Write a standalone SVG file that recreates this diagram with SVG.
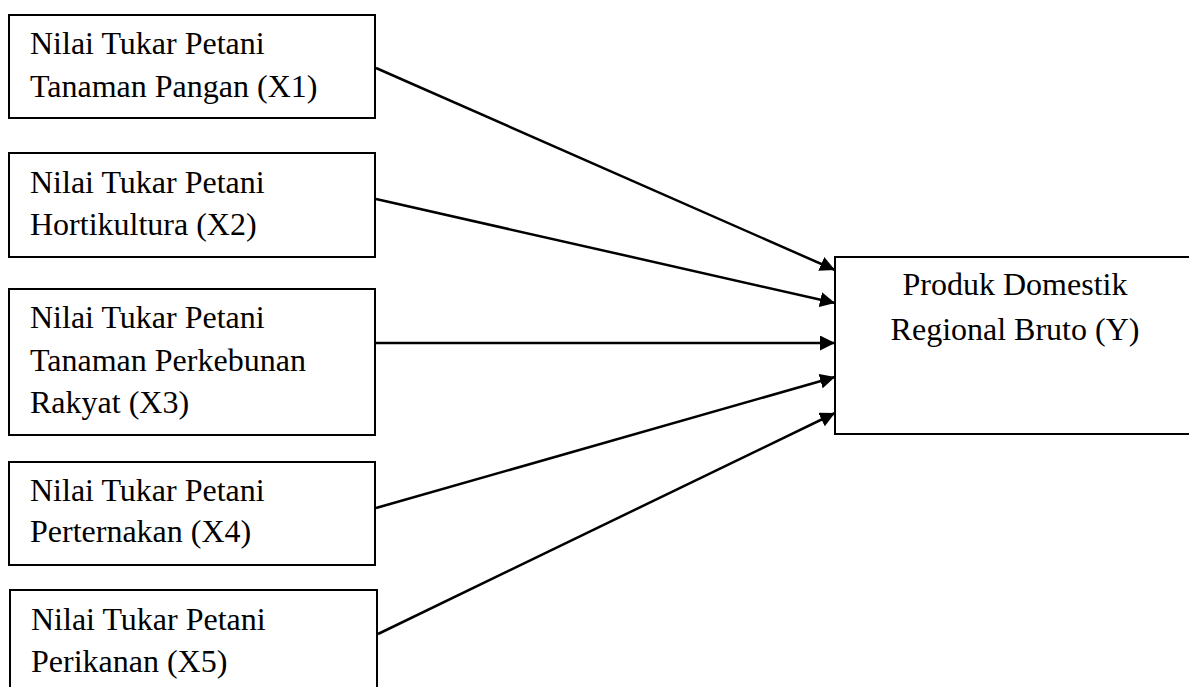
<svg xmlns="http://www.w3.org/2000/svg" width="1189" height="687" viewBox="0 0 1189 687">
<defs>
<style>
.box{fill:#fff;stroke:#000;stroke-width:2}
.t{font-family:"Liberation Serif","Times New Roman",serif;font-size:32px;fill:#000}
.c{stroke:#000;stroke-width:2.5;fill:none;marker-end:url(#ah)}
</style>
<marker id="ah" markerWidth="15" markerHeight="15" viewBox="0 0 15 15" refX="15" refY="7.5" orient="auto" markerUnits="userSpaceOnUse">
<path d="M0,0 L15,7.5 L0,15 Z" fill="#000"/>
</marker>
</defs>
<rect width="1189" height="687" fill="#fff"/>
<g id="x1">
<rect class="box" x="9" y="15" width="366" height="103"/>
<text class="t" x="30" y="54">Nilai Tukar Petani</text>
<text class="t" x="30" y="97">Tanaman Pangan (X1)</text>
</g>
<g id="x2">
<rect class="box" x="9" y="153" width="366" height="104"/>
<text class="t" x="30" y="193">Nilai Tukar Petani</text>
<text class="t" x="30" y="235">Hortikultura (X2)</text>
</g>
<g id="x3">
<rect class="box" x="9" y="289" width="366" height="146"/>
<text class="t" x="30" y="328">Nilai Tukar Petani</text>
<text class="t" x="30" y="371">Tanaman Perkebunan</text>
<text class="t" x="30" y="413">Rakyat (X3)</text>
</g>
<g id="x4">
<rect class="box" x="9" y="462" width="366" height="103"/>
<text class="t" x="30" y="501">Nilai Tukar Petani</text>
<text class="t" x="30" y="542">Perternakan (X4)</text>
</g>
<g id="x5">
<rect class="box" x="10" y="590" width="367" height="110"/>
<text class="t" x="31" y="630">Nilai Tukar Petani</text>
<text class="t" x="31" y="672">Perikanan (X5)</text>
</g>
<g id="y">
<rect class="box" x="835" y="257" width="360" height="177"/>
<text class="t" x="1015" y="295" text-anchor="middle">Produk Domestik</text>
<text class="t" x="1015" y="340" text-anchor="middle">Regional Bruto (Y)</text>
</g>
<g id="connectors">
<line class="c" x1="376" y1="68" x2="835" y2="270"/>
<line class="c" x1="376" y1="199" x2="835" y2="303"/>
<line class="c" x1="376" y1="343" x2="835" y2="343"/>
<line class="c" x1="376" y1="508" x2="835" y2="377"/>
<line class="c" x1="378" y1="634" x2="835" y2="413"/>
</g>
</svg>
